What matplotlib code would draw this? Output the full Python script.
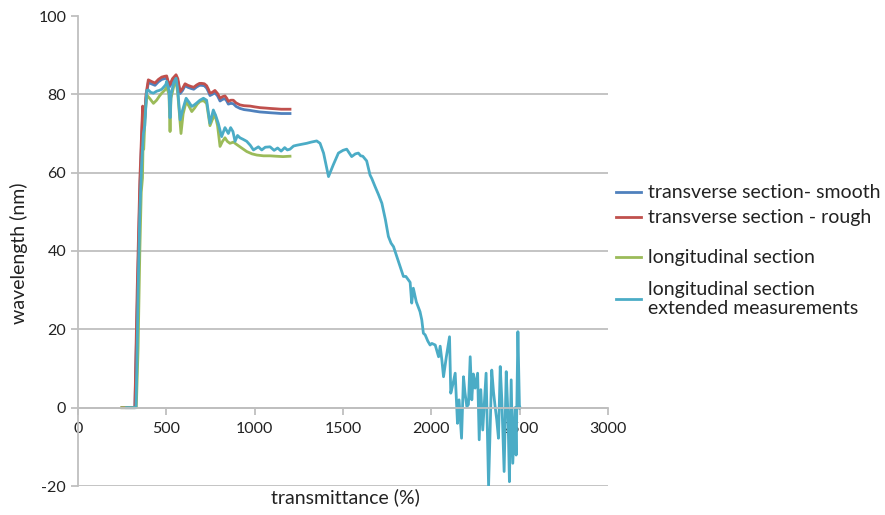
import matplotlib
matplotlib.use('Agg')
import matplotlib.pyplot as plt
from matplotlib.lines import Line2D

plt.rcParams['font.family'] = ['Lato', 'DejaVu Sans']
plt.rcParams['axes.unicode_minus'] = False

# transverse section - rough
rough_x = [250, 310, 322, 335, 350, 360, 366, 375, 385, 398, 420, 436, 455, 474, 490, 502, 512,
           520, 535, 555, 565, 578, 592, 606, 622, 640, 655, 672, 688, 700, 715, 728, 738, 747,
           760, 775, 790, 804, 818, 832, 842, 851, 865, 879, 895, 917, 940, 974, 1000, 1030,
           1060, 1087, 1120, 1150, 1200]
rough_y = [0, 0, 0, 30, 58, 70, 77, 72, 80, 83.7, 83.2, 82.9, 83.8, 84.4, 84.6, 84.7, 83,
           82.5, 84, 85, 84, 80.7, 81.5, 82.7, 82.3, 82, 81.8, 82.4, 82.8, 82.8, 82.7, 82.2, 81.3, 80.3,
           80.5, 81, 80.2, 79, 79.4, 79.6, 79.0, 78.2, 78.5, 78.5, 77.8, 77.3, 77.1, 77.0, 76.8, 76.6,
           76.5, 76.4, 76.3, 76.2, 76.2]

# transverse section - smooth
smooth_x = rough_x
smooth_y = [0, 0, 0, 25, 55, 68, 75, 72, 79, 83.0, 82.6, 82.3, 83.2, 83.8, 84.0, 84.2, 82.5,
            82, 83.4, 84.5, 83.4, 80.2, 81, 82.2, 81.8, 81.5, 81.3, 81.9, 82.3, 82.3, 82.2, 81.6, 80.7, 79.7,
            80, 80.4, 79.6, 78.3, 78.7, 78.9, 78.3, 77.5, 77.7, 77.6, 76.9, 76.4, 76.1, 75.9, 75.7, 75.5,
            75.4, 75.3, 75.2, 75.1, 75.1]

# longitudinal section
long_x = [247, 330, 340, 350, 358, 365, 368, 372, 380, 390, 405, 427, 445, 460, 474, 490, 502,
          515, 521, 526, 542, 555, 565, 583, 595, 612, 628, 644, 660, 675, 691, 710, 728, 747,
          760, 775, 790, 804, 818, 832, 845, 860, 880, 898, 920, 955, 985, 1012, 1050, 1087,
          1120, 1160, 1200]
long_y = [0, 0, 15, 40, 55, 58.6, 66.6, 66, 75, 79.8, 79, 77.7, 78.5, 79.5, 80.3, 81, 81.8,
          80, 70.5, 79, 82, 83.7, 80, 70, 75, 78.1, 77, 75.6, 76.5, 77.5, 78.2, 78.4, 77.7, 72,
          73.5, 74.9, 72, 66.7, 68, 68.9, 68, 67.5, 67.8, 67.2, 66.5, 65.4, 64.8, 64.5, 64.3, 64.3,
          64.2, 64.1, 64.2]

# longitudinal section, extended measurements
ext_x = [275, 328, 333, 340, 350, 360, 370, 378, 389, 398, 412, 427, 445, 460, 474, 488, 497, 502,
         515, 521, 527, 542, 555, 565, 578, 592, 612, 628, 644, 658, 672, 690, 710, 728, 747, 766,
         780, 794, 813, 832, 851, 864, 877, 889, 903, 917, 935, 955, 975, 993, 1021, 1040, 1060,
         1087, 1110, 1130, 1150, 1170, 1185, 1200, 1220, 1238, 1260, 1295, 1320, 1351, 1370, 1390,
         1418, 1427, 1445, 1474, 1500, 1521, 1549, 1570, 1587, 1600, 1612, 1634, 1653, 1663, 1682,
         1700, 1720, 1740, 1757, 1772, 1786, 1805, 1823, 1842, 1856, 1870, 1880, 1889, 1898, 1915,
         1936, 1946, 1955, 1965, 1980, 1993, 2003, 2022, 2041, 2050, 2060, 2069, 2085, 2103, 2110,
         2122, 2135, 2148, 2157, 2171, 2182, 2190, 2201, 2210, 2220, 2229, 2238, 2248, 2262, 2271,
         2280, 2291, 2300, 2310, 2324, 2342, 2352, 2361, 2370, 2380, 2390, 2399, 2412, 2424, 2434,
         2442, 2452, 2461, 2474, 2480, 2490, 2499, 2503]
ext_y = [0, 0, 10, 30, 50, 62, 70, 72, 81, 81.1, 80.5, 80.3, 80.8, 81, 81.3, 82, 82.5, 83.3,
         81, 74, 80, 83, 84.1, 81, 73.5, 76, 79, 78, 76.9, 77.3, 77.8, 78.5, 79, 78.5, 72.6, 76,
         74.5, 72.6, 69.2, 71.5, 70, 71.5, 70.5, 68, 69.5, 68.9, 68.5, 68, 67, 65.8, 66.6, 65.8, 66.5,
         66.6, 65.7, 66.3, 65.5, 66.4, 65.8, 66, 66.8, 67, 67.2, 67.5, 67.8, 68.1, 67.5, 65,
         59, 60, 62, 65, 65.7, 66, 64.1, 64.8, 65, 64.3, 64.2, 63, 59.4, 58.5, 56.4,
         54.5, 52.2, 48, 43.7, 42, 41.1, 38.5, 36, 33.5, 33.5, 32.6, 32, 26.7, 30.5, 27,
         24.5, 22.4, 19, 18.6, 17, 16, 16.4, 16, 13, 15.7, 12, 7.9, 13, 18.1, 3.7,
         6, 8.8, -4, 2, -7.8, 7.9, 4, 0.3, 0.8, 13, 2, 8.6, 5, 8.8, -8.2,
         4.6, -5.7, 1, 8.8, -20, 9.6, 4, 0.3, -3, -7.8, 10.5, 2, -16.3, 9.2, -2,
         -18.9, 7.1, -14.2, 0, -12.1, 19.4, -0.2, 0]

series = [
    ("transverse section- smooth", smooth_x, smooth_y, '#4F81BD'),
    ("transverse section - rough", rough_x, rough_y, '#C0504D'),
    ("longitudinal section", long_x, long_y, '#9BBB59'),
    ("longitudinal section\nextended measurements", ext_x, ext_y, '#4BACC6'),
]

GRID = '#BFBFBF'

fig = plt.figure(figsize=(8.85, 5.15), dpi=100)
ax = fig.add_axes([78/885, 29/515, 530/885, 470/515])

for name, xs, ys, c in series:
    ax.plot(xs, ys, color=c, lw=2.0, solid_joinstyle='round')

ax.set_xlim(0, 3000)
ax.set_ylim(-20, 100)
ax.set_xticks(range(0, 3001, 500))
ax.set_yticks(range(-20, 101, 20))
ax.yaxis.grid(True, color=GRID, lw=1.3)
ax.get_ygridlines()[-1].set_visible(False)
ax.set_axisbelow(True)

for s in ['top', 'right']:
    ax.spines[s].set_visible(False)
ax.spines['bottom'].set_position(('data', 0))
ax.spines['bottom'].set_color(GRID)
ax.spines['left'].set_color(GRID)
ax.spines['bottom'].set_linewidth(1.3)
ax.spines['left'].set_linewidth(1.3)
ax.tick_params(axis='both', colors=GRID, labelcolor='#222222', labelsize=11.5, length=5, width=1.3)
ax.tick_params(axis='x', pad=5)

fig.text(19/885, 1 - 253/515, "wavelength (nm)", rotation=90, ha='center', va='center',
         fontsize=14, color='#222222')
fig.text(345/885, 1 - 497/515, "transmittance (%)", ha='center', va='center',
         fontsize=14, color='#222222')

# legend placed by hand (Excel spacing is uneven)
leg_y = [192, 217, 257, 299]
for (name, xs, ys, c), py in zip(series, leg_y):
    fy = 1 - py/515
    fig.add_artist(Line2D([616/885, 641/885], [fy, fy], color=c, lw=2.0, transform=fig.transFigure))
    fig.text(648/885, fy, name, ha='left', va='center', fontsize=14, color='#222222',
             linespacing=1.2)

plt.savefig('out.png', dpi=100)
